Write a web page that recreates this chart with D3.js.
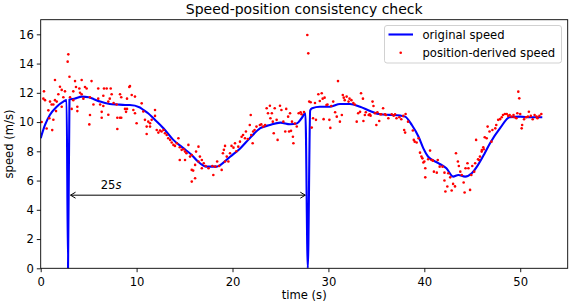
<!DOCTYPE html>
<html><head><meta charset="utf-8">
<script src="https://cdn.jsdelivr.net/npm/d3@7"></script>
<style>
html,body{margin:0;padding:0;background:#fff;}
svg{display:block;font-family:"DejaVu Sans",sans-serif;}
</style></head>
<body><svg id="c" width="570" height="304"></svg>
<script>
const title = "Speed-position consistency check";
const xLabel = "time (s)";
const yLabel = "speed (m/s)";
const xTicks = [0,10,20,30,40,50];
const yTicks = [0,2,4,6,8,10,12,14,16];
const legendLabels = ["original speed","position-derived speed"];

// original speed (blue line)
const speedTime = [0,0.45,0.97,1.67,2.36,2.7,2.85,3.0,3.5,4.3,5.0,5.6,6.2,7.2,8.0,8.8,9.3,10.35,10.7,11.2,11.75,12.8,13.8,14.8,15.75,16.4,17.3,18.35,18.7,19.75,20.8,21.8,22.9,23.9,25.0,26.0,26.7,27.2,27.6,27.85,28.1,28.3,29.1,30.2,31.2,32.25,33.3,34.35,35.4,36.4,37.5,38.0,38.7,39.4,39.9,40.4,41.5,42.3,43.0,43.55,44.25,44.95,45.6,46.3,46.85,47.9,48.9,50.0,51.0,52.3];
const speedValue = [8.9,9.8,10.5,11.05,11.4,11.5,0,11.55,11.6,11.74,11.7,11.55,11.4,11.24,11.2,11.17,11.17,11.0,10.83,10.6,10.26,9.58,8.8,8.25,7.75,7.3,6.95,6.95,7.05,7.63,8.2,8.9,9.58,9.8,9.96,9.85,9.9,10.26,10.6,0,10.8,10.95,11.05,11.05,11.24,11.24,11.05,10.76,10.53,10.49,10.44,10.37,9.8,9.0,8.2,7.63,7.18,6.84,6.27,6.38,6.27,6.5,7.07,7.87,8.55,9.58,10.33,10.37,10.33,10.33];

// position-derived speed (red dots)
const posTime = [2.88,2.81,3.0,1.49,4.27,5.3,2.01,2.19,3.58,3.68,4.03,4.62,4.79,3.4,4.1,4.27,2.53,1.84,2.36,0.34,0.45,0.28,0.97,1.14,1.49,1.67,3.06,3.4,4.45,5.14,6.0,6.6,6.88,7.3,6.53,7.2,7.4,8.27,8.4,9.0,9.24,5.5,6.0,6.2,6.53,7.05,7.6,7.92,0.8,1.32,1.6,0.9,1.32,1.2,0.62,0.1,2.19,3.82,3.82,3.23,5.14,5.07,6.36,6.36,7.05,7.99,8.27,7.99,8.4,8.79,8.9,9.0,
9.31,9.49,9.83,10.53,9.66,9.83,10.0,10.7,10.87,11.22,11.05,11.4,11.57,11.92,11.92,11.4,11.05,12.1,12.27,12.44,12.6,12.8,12.96,13.14,13.3,13.5,13.66,13.84,14.0,14.2,14.36,14.5,14.7,14.9,15.05,15.2,15.4,15.57,15.75,14.5,15.05,16.45,16.2,16.6,16.8,16.45,17.0,17.2,17.5,17.9,18.0,18.2,18.4,18.6,15.75,15.9,16.1,15.75,16.8,16.1,
18.87,19.22,19.1,19.0,19.4,19.57,19.22,19.74,19.9,20.1,20.26,20.4,20.6,20.78,20.95,21.1,21.3,21.4,21.6,21.8,21.9,21.95,22.1,22.15,22.3,22.5,22.85,23.0,23.2,23.4,23.56,23.9,23.7,24.1,23.95,24.2,24.3,24.4,24.6,24.7,24.95,25.1,25.3,25.5,25.6,25.8,26.0,25.9,26.1,26.3,26.35,26.2,26.5,26.7,26.9,27.1,27.2,27.8,27.9,28.0,
27.45,28.15,28.26,28.4,28.6,28.7,28.95,29.1,29.3,29.4,29.5,29.6,29.8,29.9,30.1,30.2,30.3,30.5,30.7,30.87,31.0,31.2,31.4,31.5,31.6,31.7,31.9,32.1,32.2,32.4,32.6,32.75,32.95,33.1,33.3,33.4,33.6,33.65,33.8,33.9,34.2,34.3,34.4,34.6,34.7,34.85,35.0,35.1,35.3,35.4,35.5,35.7,35.9,36.0,36.25,36.6,36.8,36.95,
37.1,37.4,37.6,37.8,38.05,38.3,37.9,38.0,38.8,38.9,39.0,39.2,39.4,39.55,39.7,39.8,39.9,40.0,40.1,40.1,40.4,40.6,40.75,40.9,41.0,41.3,41.4,41.6,41.9,42.1,42.1,42.2,42.4,42.5,42.7,42.85,43.0,43.2,43.3,43.5,43.6,43.75,43.9,44.1,44.2,44.3,44.5,44.6,44.77,44.9,45.0,45.2,45.3,45.4,45.6,45.7,45.8,45.98,46.2,46.3,
46.0,46.15,46.5,46.6,46.8,47.0,47.1,47.4,47.5,47.7,47.9,48.07,48.2,48.4,48.6,48.75,48.9,49.1,49.3,49.4,49.6,49.7,49.8,49.9,50.0,50.15,50.2,50.4,50.6,50.8,50.9,51.1,51.3,51.5,51.7,51.8,52.0,52.2];
const posSpeed = [14.63,14.13,13.1,12.88,12.88,12.8,12.42,12.2,12.8,12.4,12.3,12.4,12.3,12.1,12.0,11.9,12.1,11.9,11.7,12.1,11.5,11.6,11.4,11.2,11.5,11.4,11.7,11.5,11.6,11.7,12.3,12.3,12.3,12.3,11.8,11.6,11.9,11.9,11.7,11.6,12.4,11.2,11.6,11.2,11.1,11.4,11.3,11.2,10.8,11.2,10.75,10.26,10.16,9.45,9.56,10.0,11.05,11.05,10.75,10.9,10.48,9.84,10.7,10.3,10.5,10.3,10.3,9.53,10.3,10.9,10.7,10.9,
12.47,11.85,11.74,11.28,10.83,10.6,9.92,10.72,10.15,10.03,9.69,9.92,10.15,10.42,10.83,9.69,9.18,9.46,9.28,9.42,9.35,9.46,9.23,9.12,8.89,8.78,8.6,8.44,8.37,8.55,8.89,8.28,8.1,8.14,7.98,7.87,8.44,7.64,7.75,7.41,7.41,8.32,7.98,7.64,7.41,7.3,7.18,7.0,6.84,7.0,6.38,6.95,7.3,7.0,6.73,6.68,6.16,5.93,6.84,7.07,
6.73,8.37,8.1,7.87,7.64,7.3,7.3,7.87,8.37,8.25,8.55,8.0,8.32,8.66,9.0,9.12,8.89,9.35,8.84,9.8,10.48,9.12,8.55,9.35,9.46,9.69,9.8,9.84,9.69,9.8,10.94,11.12,10.6,10.6,10.26,10.03,9.23,10.94,10.15,8.78,11.12,10.83,10.03,9.35,10.9,10.37,10.6,9.35,9.4,9.0,8.55,10.03,9.9,9.7,10.6,10.67,10.53,15.95,14.7,11.4,
10.68,11.35,9.62,10.26,11.3,10.15,11.9,11.44,11.97,11.6,10.2,11.67,11.17,11.2,10.15,9.6,11.1,11.4,10.67,10.37,12.8,10.03,10.48,11.85,11.67,11.5,11.74,11.4,11.6,11.5,11.3,11.2,10.03,10.6,10.7,11.97,11.6,10.07,10.48,10.67,10.48,10.53,10.44,11.4,11.1,10.6,9.8,10.67,10.07,10.53,10.53,10.94,10.53,10.48,10.26,10.53,10.44,10.53,
10.26,10.33,10.19,10.42,10.55,10.03,9.46,9.28,9.42,8.78,8.66,8.6,8.89,7.91,7.64,7.52,7.23,7.3,6.84,6.22,7.46,8.05,7.41,7.36,6.61,6.54,7.41,6.95,6.95,6.54,6.0,5.25,5.59,6.5,6.22,5.32,5.77,5.6,7.87,7.3,7.0,6.61,6.38,5.87,5.18,6.84,7.18,6.84,5.36,6.38,7.0,6.61,7.18,8.78,7.46,7.41,7.64,7.98,8.14,8.96,
8.09,8.28,8.89,9.69,9.35,8.66,9.46,9.57,9.8,10.15,10.2,10.33,10.48,10.55,10.55,10.42,10.48,10.37,10.48,10.33,10.26,10.6,12.08,11.62,10.55,9.57,9.8,10.19,10.33,10.37,10.71,10.42,10.19,10.48,10.37,10.26,10.42,10.55];

const svg = d3.select("#c");
const m = {l:40.7, t:19.7, r:567.7, b:268.3};
const x = d3.scaleLinear().domain([0,54.95]).range([m.l,m.r]);
const y = d3.scaleLinear().domain([0,17]).range([m.b,m.t]);
const fs = 11.6;

svg.append("clipPath").attr("id","pc").append("rect")
  .attr("x",m.l).attr("y",m.t).attr("width",m.r-m.l).attr("height",m.b-m.t);

const plot = svg.append("g").attr("clip-path","url(#pc)");
const line = d3.line().x(d=>x(d[0])).y(d=>y(d[1])).curve(d3.curveMonotoneX);
plot.append("path").datum(speedTime.map((t,i)=>[t,speedValue[i]]))
  .attr("d",line).attr("fill","none").attr("stroke","#0000ff").attr("stroke-width",2.1)
  .attr("stroke-linejoin","round");
plot.selectAll("circle.p").data(posTime.map((t,i)=>[t,posSpeed[i]])).enter()
  .append("circle").attr("class","p").attr("cx",d=>x(d[0])).attr("cy",d=>y(d[1]))
  .attr("r",1.3).attr("fill","#ff0000");

// arrow annotation
const defs = svg.append("defs");
defs.append("marker").attr("id","ah").attr("viewBox","-6 -4 7 8").attr("refX",0).attr("refY",0)
  .attr("markerWidth",7).attr("markerHeight",8).attr("markerUnits","userSpaceOnUse").attr("orient","auto-start-reverse")
  .append("path").attr("d","M-5,-3 L0,0 L-5,3").attr("fill","none").attr("stroke","#000").attr("stroke-width",1);
svg.append("line").attr("x1",x(2.85)+2.5).attr("x2",x(27.85)-2.5).attr("y1",y(5)).attr("y2",y(5))
  .attr("stroke","#000").attr("stroke-width",1)
  .attr("marker-start","url(#ah)").attr("marker-end","url(#ah)");
const ann = svg.append("text").attr("x",x(6.26)).attr("y",y(5.42)).attr("font-size",fs).attr("fill","#000");
ann.append("tspan").text("25");
ann.append("tspan").attr("font-style","italic").text("s");

// axes
const xa = svg.append("g").attr("transform",`translate(0,${m.b})`)
  .call(d3.axisBottom(x).tickValues(xTicks).tickSize(3.9).tickPadding(5.5).tickFormat(d3.format("d")));
const ya = svg.append("g").attr("transform",`translate(${m.l},0)`)
  .call(d3.axisLeft(y).tickValues(yTicks).tickSize(3.9).tickPadding(3).tickFormat(d3.format("d")));
[xa,ya].forEach(a=>{
  a.select(".domain").remove();
  a.selectAll("text").attr("font-size",fs).attr("font-family","DejaVu Sans").attr("fill","#000");
  a.selectAll("line").attr("stroke","#000").attr("stroke-width",0.9);
});
svg.append("rect").attr("x",m.l).attr("y",m.t).attr("width",m.r-m.l).attr("height",m.b-m.t)
  .attr("fill","none").attr("stroke","#000").attr("stroke-width",0.9);

svg.append("text").attr("x",(m.l+m.r)/2).attr("y",13.6).attr("text-anchor","middle")
  .attr("font-size",14).text(title);
svg.append("text").attr("x",(m.l+m.r)/2).attr("y",299).attr("text-anchor","middle")
  .attr("font-size",fs).text(xLabel);
svg.append("text").attr("transform",`translate(12.5,${(m.t+m.b)/2}) rotate(-90)`).attr("text-anchor","middle")
  .attr("font-size",fs).text(yLabel);

// legend
const lg = svg.append("g");
lg.append("rect").attr("x",384.5).attr("y",25.5).attr("width",177).attr("height",37.5).attr("rx",2.5)
  .attr("fill","#fff").attr("fill-opacity",0.8).attr("stroke","#cccccc").attr("stroke-width",0.9);
lg.append("line").attr("x1",388.5).attr("x2",413).attr("y1",34.5).attr("y2",34.5)
  .attr("stroke","#0000ff").attr("stroke-width",2.1);
lg.append("circle").attr("cx",400.7).attr("cy",52.7).attr("r",1.3).attr("fill","#ff0000");
lg.append("text").attr("x",422.5).attr("y",38.8).attr("font-size",fs).text(legendLabels[0]);
lg.append("text").attr("x",422.5).attr("y",57).attr("font-size",fs).text(legendLabels[1]);
</script></body></html>
